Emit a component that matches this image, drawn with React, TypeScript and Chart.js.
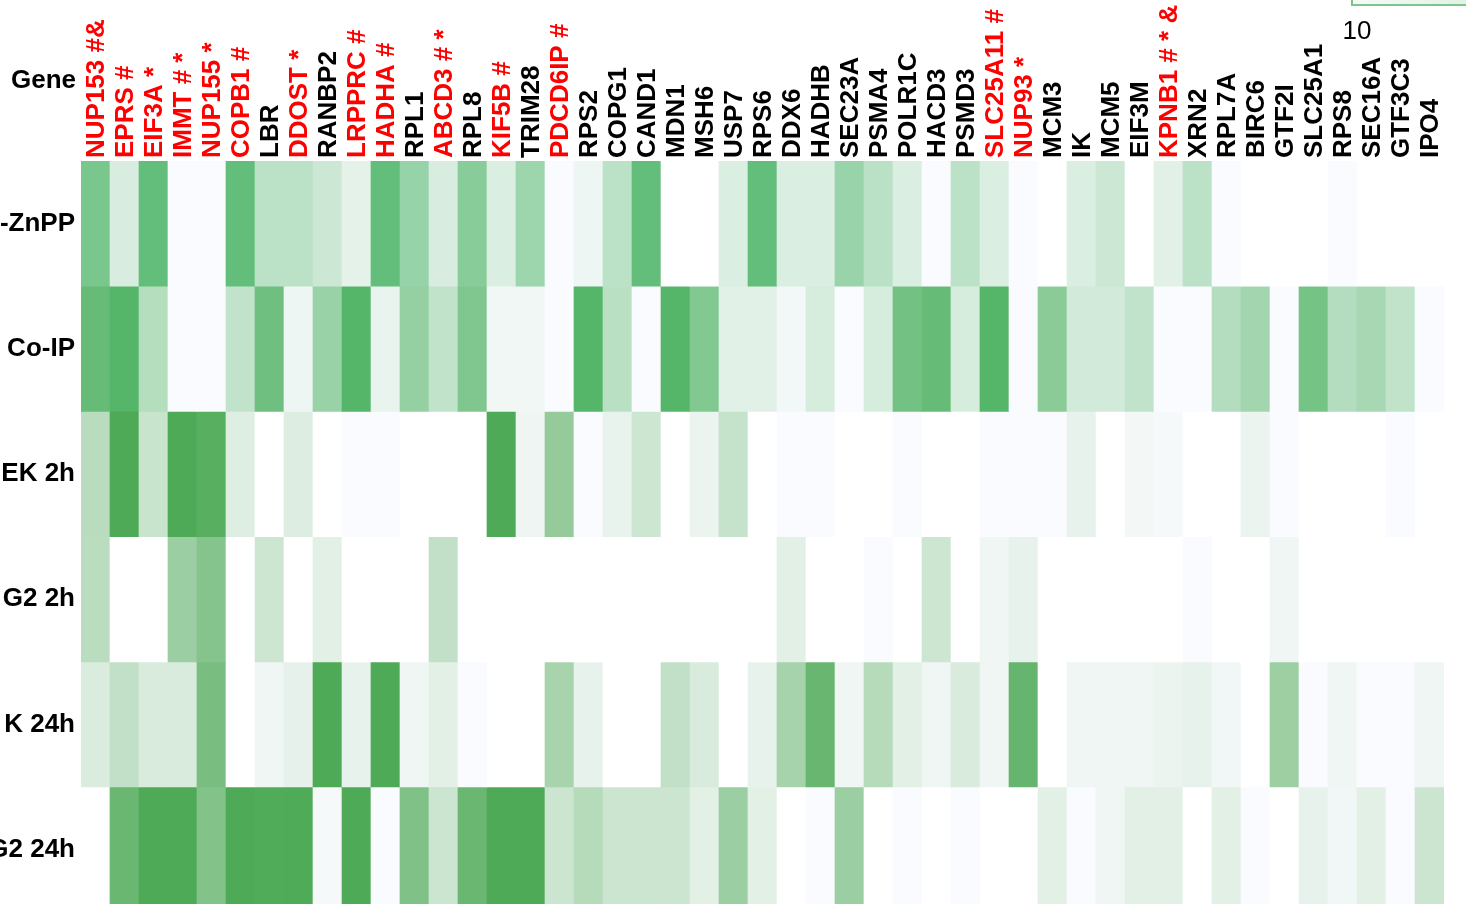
import React, { useEffect, useRef } from 'react';
import { Chart, registerables } from 'chart.js';

Chart.register(...registerables);

// ---- data ----
const genes = [
  'NUP153 #&', 'EPRS #', 'EIF3A *', 'IMMT # *', 'NUP155 *', 'COPB1 #', 'LBR', 'DDOST *', 'RANBP2', 'LRPPRC #',
  'HADHA #', 'RPL1', 'ABCD3 # *', 'RPL8', 'KIF5B #', 'TRIM28', 'PDCD6IP #', 'RPS2', 'COPG1', 'CAND1',
  'MDN1', 'MSH6', 'USP7', 'RPS6', 'DDX6', 'HADHB', 'SEC23A', 'PSMA4', 'POLR1C', 'HACD3',
  'PSMD3', 'SLC25A11 #', 'NUP93 *', 'MCM3', 'IK', 'MCM5', 'EIF3M', 'KPNB1 # * &', 'XRN2', 'RPL7A',
  'BIRC6', 'GTF2I', 'SLC25A1', 'RPS8', 'SEC16A', 'GTF3C3', 'IPO4',
];

// genes highlighted in red
const highlighted = [
  'NUP153 #&', 'EPRS #', 'EIF3A *', 'IMMT # *', 'NUP155 *', 'COPB1 #', 'DDOST *', 'LRPPRC #', 'HADHA #',
  'ABCD3 # *', 'KIF5B #', 'PDCD6IP #', 'SLC25A11 #', 'NUP93 *', 'KPNB1 # * &',
];

const rowLabels = ['-ZnPP', 'Co-IP', 'EK 2h', 'G2 2h', 'K 24h', 'G2 24h'];

// intensity 0..10 per row, null = empty (white)
const rowZnPP = [
  8.6, 2.3, 10, 0, 0, 10, 4.2, 4.2, 3.1, 1.5,
  10, 6.6, 2.3, 7.7, 2.1, 6.2, 0, 0.9, 4.2, 10,
  null, null, 2.1, 10, 2.1, 2.1, 6.5, 4.3, 2.1, 0,
  4.2, 2.1, 0, null, 2.1, 3.1, null, 1.7, 4.2, 0,
  null, null, null, 0, null, null, null,
];
const rowCoIP = [
  9.0, 10, 4.2, 0, 0, 3.4, 8.4, 0.7, 5.9, 10,
  1.0, 6.2, 3.5, 7.4, 0.6, 0.6, 0, 10, 3.9, 0,
  10, 7.3, 1.5, 1.5, 0.5, 2.2, 0, 2.2, 8.2, 9.0,
  2.2, 10, 0, 6.8, 2.5, 2.5, 3.4, 0, 0, 4.3,
  5.3, 0, 8.0, 4.3, 5.0, 3.5, 0,
];
const rowEK2h = [
  3.8, 10, 2.9, 10, 9.4, 1.6, null, 1.7, null, 0,
  0, null, null, null, 10, 0.7, 5.9, 0, 1.0, 2.6,
  null, 0.9, 3.1, null, 0, 0, null, null, 0, null,
  null, 0, 0, 0, 1.1, null, 0.4, 0.3, null, null,
  0.9, 0, null, null, null, 0, null,
];
const rowG22h = [
  3.7, null, null, 5.5, 6.8, null, 2.6, null, 1.4, null,
  null, null, 3.3, null, null, null, null, null, null, null,
  null, null, null, null, 1.4, null, null, 0, null, 2.6,
  null, 0.6, 1.1, null, null, null, null, null, 0, null,
  null, 0.6, null, null, null, null, null,
];
const rowK24h = [
  1.9, 3.3, 2.0, 2.0, 7.5, null, 0.6, 1.2, 10, 1.1,
  10, 0.6, 1.4, 0, null, null, 4.8, 1.1, null, null,
  3.3, 2.0, null, 1.1, 4.9, 8.5, 0.6, 4.0, 1.4, 0.6,
  2.0, 0.6, 8.6, null, 0.6, 0.6, 0.6, 0.9, 1.1, 0.5,
  null, 5.4, 0, 0.6, 0, 0, 0.6,
];
const rowG224h = [
  null, 8.4, 10, 10, 6.9, 10, 9.8, 9.9, 0.3, 10,
  0, 7.1, 2.7, 8.4, 10, 10, 2.7, 4.0, 2.7, 2.7,
  2.7, 1.4, 5.5, 1.4, null, 0, 5.5, null, 0, null,
  0, null, null, 1.4, 0, 0.6, 1.4, 1.4, null, 1.4,
  0, null, 1.1, 0.5, 1.4, 0, 2.7,
];

const legendTicks = ['10'];

// ---- styles ----
const rows = [rowZnPP, rowCoIP, rowEK2h, rowG22h, rowK24h, rowG224h];
const rowMaxColors = ['#64BE7B', '#55B568', '#4EAA56', '#4EAA56', '#4EAA56', '#4EAA56'];
const MIN_COLOR = '#FAFBFE';
const EMPTY_COLOR = '#FFFFFF';
const FONT = '"Liberation Sans", Arial, Helvetica, sans-serif';

function hexToRgb(h: string): number[] {
  const n = parseInt(h.slice(1), 16);
  return [(n >> 16) & 255, (n >> 8) & 255, n & 255];
}

function cellColor(v: number | null, maxHex: string): string {
  if (v === null) return EMPTY_COLOR;
  const a = hexToRgb(MIN_COLOR);
  const b = hexToRgb(maxHex);
  const t = Math.max(0, Math.min(1, v / 10));
  const c = a.map((x, i) => Math.round(x + (b[i] - x) * t));
  return `rgb(${c[0]},${c[1]},${c[2]})`;
}

const GRID_TOP = 161;
const ROW_H = 125.2;
const CANVAS_H = 904;

const overlayPlugin = {
  id: 'overlay',
  afterDraw(chart: any) {
    const ctx = chart.ctx;
    ctx.save();
    // "Gene" header label
    ctx.font = `bold 26px ${FONT}`;
    ctx.fillStyle = '#000';
    ctx.textAlign = 'right';
    ctx.textBaseline = 'alphabetic';
    ctx.fillText('Gene', 76, 88);
    // colour bar (partially visible)
    const grad = ctx.createLinearGradient(1352, 0, 1466, 0);
    grad.addColorStop(0, '#F4FAF6');
    grad.addColorStop(1, '#E2F2E7');
    ctx.fillStyle = grad;
    ctx.fillRect(1352, -40, 160, 45);
    ctx.strokeStyle = '#7CC68E';
    ctx.lineWidth = 2;
    ctx.strokeRect(1352, -40, 160, 45);
    // colour bar tick
    ctx.font = `26px ${FONT}`;
    ctx.fillStyle = '#000';
    ctx.textAlign = 'center';
    ctx.fillText(legendTicks[0], 1357, 39);
    ctx.restore();
  },
};

export default function App() {
  const canvasRef = useRef<HTMLCanvasElement | null>(null);

  useEffect(() => {
    document.body.style.margin = '0';
    document.body.style.overflow = 'hidden';
    const canvas = canvasRef.current;
    if (!canvas) return;

    const datasets = rows.map((vals, r) => ({
      label: rowLabels[r],
      data: genes.map(() => [r, r + 1]),
      backgroundColor: vals.map((v) => cellColor(v, rowMaxColors[r])),
      borderWidth: 0,
      barPercentage: 1,
      categoryPercentage: 1,
      grouped: false,
    }));

    const chart = new Chart(canvas, {
      type: 'bar',
      data: { labels: genes, datasets: datasets as any },
      options: {
        animation: false,
        responsive: false,
        maintainAspectRatio: false,
        layout: { padding: { left: 0, right: 22, top: 0, bottom: 0 } },
        plugins: {
          legend: { display: false },
          tooltip: { enabled: false },
        },
        scales: {
          x: {
            type: 'category',
            position: 'top',
            grid: { display: false, drawTicks: false },
            border: { display: false },
            afterFit: (scale: any) => {
              scale.height = GRID_TOP;
              scale.paddingLeft = 0;
              scale.paddingRight = 0;
            },
            ticks: {
              autoSkip: false,
              minRotation: 90,
              maxRotation: 90,
              padding: 3,
              labelOffset: 33,
              font: { family: FONT, size: 26, weight: 'bold' },
              color: (c: any) => (highlighted.includes(genes[c.index]) ? '#FF0000' : '#000000'),
            },
          },
          y: {
            type: 'linear',
            reverse: true,
            min: 0,
            max: (CANVAS_H - GRID_TOP) / ROW_H,
            grid: { display: false, drawTicks: false },
            border: { display: false },
            afterFit: (scale: any) => {
              scale.width = 81;
              scale.paddingTop = 0;
              scale.paddingBottom = 0;
            },
            afterBuildTicks: (scale: any) => {
              scale.ticks = rowLabels.map((_, i) => ({ value: i + 0.5 }));
            },
            ticks: {
              padding: 6,
              font: { family: FONT, size: 26, weight: 'bold' },
              color: '#000000',
              callback: (value: any) => rowLabels[Math.floor(Number(value))] ?? '',
            },
          },
        },
      },
      plugins: [overlayPlugin],
    });

    return () => chart.destroy();
  }, []);

  return (
    <div style={{ width: 1466, height: 904, overflow: 'hidden' }}>
      <canvas ref={canvasRef} width={1466} height={904} style={{ display: 'block', width: 1466, height: 904 }} />
    </div>
  );
}
